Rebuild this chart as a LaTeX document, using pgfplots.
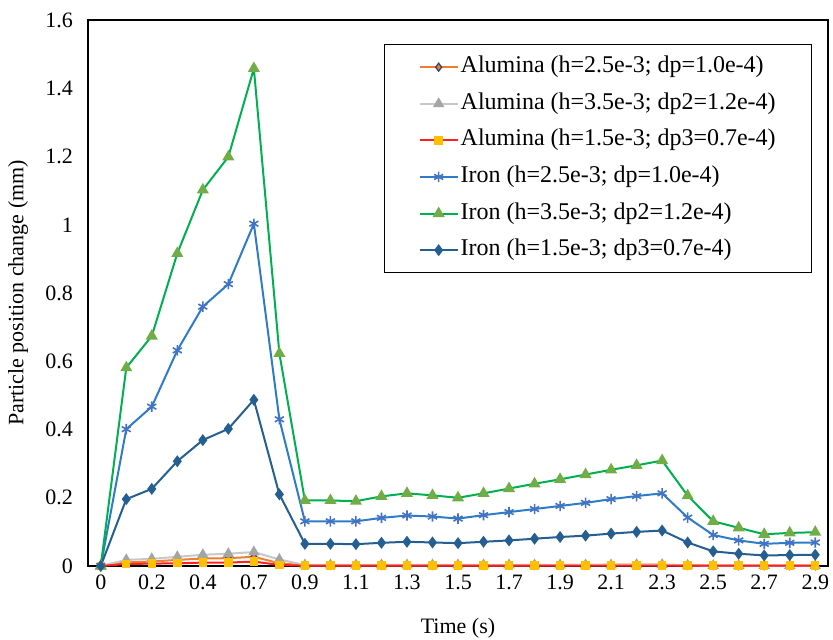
\documentclass[border=0pt]{standalone}
\usepackage{fontspec}
\setmainfont{Liberation Serif}
\usepackage{pgfplots}
\usepackage{pgfplotstable}
\pgfplotsset{compat=1.18}

\definecolor{alo}{HTML}{ED7D31}
\definecolor{alomk}{HTML}{264478}
\definecolor{alg}{HTML}{C8C8C8}
\definecolor{algmk}{HTML}{A5A5A5}
\definecolor{alr}{HTML}{FF2020}
\definecolor{alrmk}{HTML}{FFC000}
\definecolor{feb}{HTML}{2E7CC8}
\definecolor{febmk}{HTML}{4472C4}
\definecolor{feg}{HTML}{00B050}
\definecolor{fegmk}{HTML}{70AD47}
\definecolor{fed}{HTML}{255E91}

% idx = category position (time labels are not evenly spaced)
\pgfplotstableread{
idx a25 a35 a15 i25 i35 i15
0 0 0 0 0 0 0
1 0.011 0.018 0.006 0.401 0.581 0.196
2 0.013 0.021 0.007 0.467 0.674 0.226
3 0.018 0.027 0.008 0.632 0.916 0.307
4 0.022 0.033 0.010 0.760 1.102 0.369
5 0.023 0.036 0.010 0.826 1.199 0.402
6 0.027 0.041 0.013 1.003 1.458 0.487
7 0.008 0.019 0.003 0.430 0.623 0.210
8 0.002 0.003 0.001 0.131 0.192 0.065
9 0.002 0.003 0.001 0.131 0.192 0.065
10 0.002 0.003 0.001 0.131 0.190 0.064
11 0.002 0.003 0.001 0.141 0.204 0.068
12 0.002 0.003 0.001 0.148 0.213 0.071
13 0.002 0.003 0.001 0.145 0.207 0.069
14 0.002 0.003 0.001 0.139 0.200 0.067
15 0.002 0.003 0.001 0.149 0.213 0.071
16 0.002 0.003 0.001 0.158 0.227 0.075
17 0.002 0.003 0.001 0.167 0.241 0.080
18 0.003 0.003 0.001 0.176 0.254 0.085
19 0.003 0.003 0.001 0.185 0.268 0.089
20 0.004 0.003 0.001 0.196 0.282 0.095
21 0.004 0.004 0.001 0.205 0.295 0.100
22 0.004 0.004 0.001 0.213 0.309 0.104
23 0.002 0.002 0.001 0.142 0.206 0.069
24 0.001 0.001 0.001 0.091 0.131 0.043
25 0.001 0.001 0.001 0.075 0.112 0.036
26 0.001 0.001 0.001 0.065 0.093 0.031
27 0.001 0.001 0.001 0.068 0.097 0.032
28 0.001 0.001 0.001 0.069 0.099 0.033
}\data

\newcommand\fs{\fontsize{11}{13}\selectfont}
\newcommand\lfs{\fontsize{12}{14}\selectfont}

\begin{document}
\begin{tikzpicture}
\begin{axis}[
    scale only axis,
    width=370pt, height=273pt,
    xmin=-0.5, xmax=28.5,
    ymin=0, ymax=1.6,
    xtick={0,2,...,28},
    xticklabels={0,0.2,0.4,0.7,0.9,1.1,1.3,1.5,1.7,1.9,2.1,2.3,2.5,2.7,2.9},
    ytick={0,0.2,...,1.6},
    major tick length=0pt,
    axis line style={line width=0.6pt},
    /pgf/number format/assume math mode=true,
    tick label style={font=\fs},
    yticklabel style={xshift=-4pt},
    xticklabel style={yshift=-1pt},
    xlabel={Time (s)},
    ylabel={Particle position change (mm)},
    label style={font=\fs},
    xlabel style={at={(axis description cs:0.5,-0.1136)}, anchor=center},
    ylabel style={at={(axis description cs:-0.0946,0.5)}, anchor=center},
    legend style={at={(0.4,0.956)}, anchor=north west, draw=black,
        line width=0.6pt, font=\lfs, inner xsep=17pt, inner ysep=4.5pt,
        row sep=4.8pt,
        nodes={inner sep=1pt, text height=8.5pt, text depth=3pt}},
    legend cell align=left,
    legend image code/.code={\draw[mark repeat=2,mark phase=2]
        plot coordinates {(0cm,0cm) (0.335cm,0cm) (0.67cm,0cm)};},
    every axis plot/.append style={line width=1pt},
]
\addplot[alo, mark=diamond*, mark size=2pt, mark options={fill=alo, draw=alomk, line width=0.6pt}] table[x=idx, y=a25] {\data};
\addplot[alg, mark=triangle*, mark size=2.3pt, mark options={fill=algmk, draw=algmk}] table[x=idx, y=a35] {\data};
\addplot[alr, mark=square*, mark size=1.6pt, mark options={fill=alrmk, draw=alrmk}] table[x=idx, y=a15] {\data};
\addplot[feb, mark=asterisk, mark size=2.6pt, mark options={draw=febmk, line width=0.8pt}] table[x=idx, y=i25] {\data};
\addplot[feg, mark=triangle*, mark size=2.5pt, mark options={fill=fegmk, draw=fegmk}] table[x=idx, y=i35] {\data};
\addplot[fed, mark=diamond*, mark size=2.2pt, mark options={fill=fed, draw=fed}] table[x=idx, y=i15] {\data};
\legend{Alumina (h=2.5e-3; dp=1.0e-4), Alumina (h=3.5e-3; dp2=1.2e-4), Alumina (h=1.5e-3; dp3=0.7e-4),
    Iron (h=2.5e-3; dp=1.0e-4), Iron (h=3.5e-3; dp2=1.2e-4), Iron (h=1.5e-3; dp3=0.7e-4)}
\end{axis}
\pgfresetboundingbox
\path ([shift={(-44pt,-36.5pt)}]current axis.south west) rectangle +(416.5pt,319.5pt);
\end{tikzpicture}
\end{document}
